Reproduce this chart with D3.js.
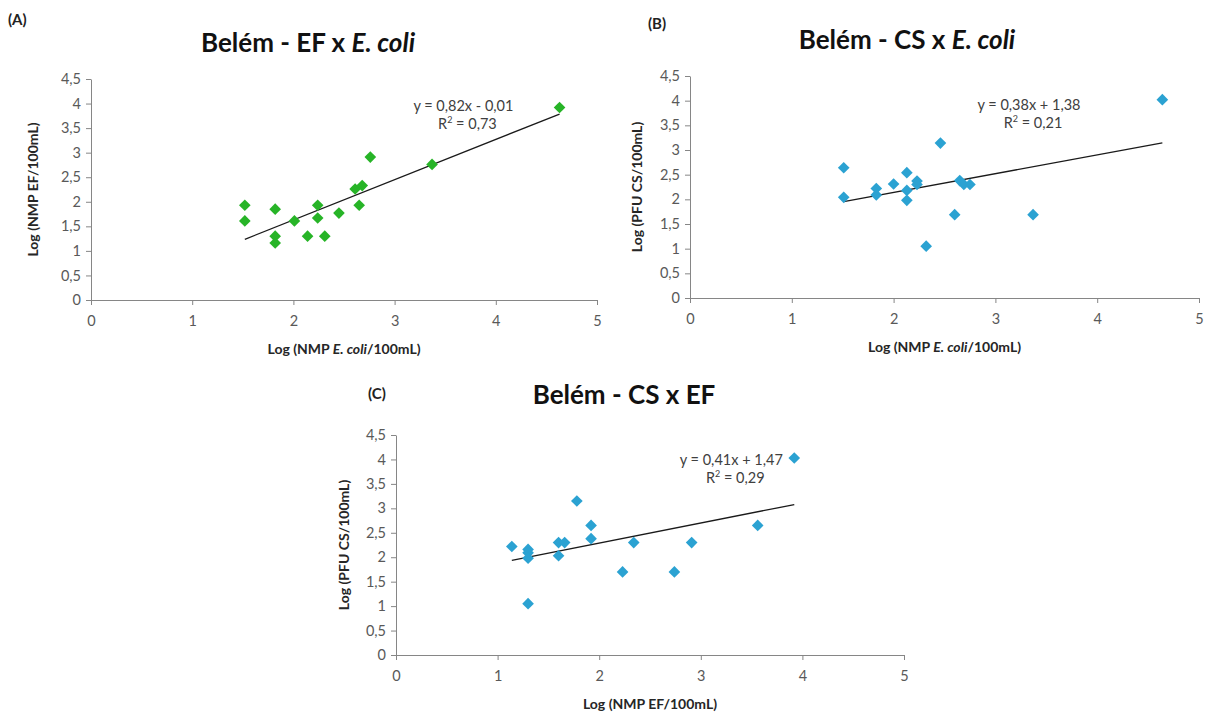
<!DOCTYPE html>
<html>
<head>
<meta charset="utf-8">
<script src="https://cdn.jsdelivr.net/npm/d3@7"></script>
<style>
  body { margin: 0; background: #fff; }
  svg { font-family: Lato, "Open Sans", sans-serif; }
  .axis path, .axis line { stroke: #868686; }
  .label { font-weight: bold; fill: #262626; text-anchor: middle; }
  .title { font-weight: bold; fill: #111; text-anchor: middle; }
  .tag { font-weight: bold; fill: #222; }
  .eq { fill: #404040; text-anchor: middle; }
</style>
</head>
<body>
<svg width="1206" height="713"></svg>
<script>
// tick values shared by the three panels
var xTicks = [0, 1, 2, 3, 4, 5];
var yTicks = [0, 0.5, 1, 1.5, 2, 2.5, 3, 3.5, 4, 4.5];

// (A) EF x E. coli
var aX = [1.52, 1.52, 1.82, 1.82, 1.82, 2.01, 2.14, 2.24, 2.24, 2.31, 2.45, 2.61, 2.68, 2.65, 2.76, 3.37, 4.63];
var aY = [1.93, 1.61, 1.85, 1.30, 1.16, 1.61, 1.30, 1.93, 1.67, 1.30, 1.77, 2.26, 2.33, 1.93, 2.91, 2.76, 3.92];
var aFit = [0.82, -0.01];

// (B) CS x E. coli
var bX = [1.51, 1.51, 1.83, 1.83, 2.00, 2.13, 2.13, 2.13, 2.23, 2.23, 2.46, 2.60, 2.65, 2.69, 2.75, 2.32, 3.37, 4.64];
var bY = [2.64, 2.04, 2.22, 2.09, 2.31, 2.54, 2.18, 1.98, 2.37, 2.30, 3.14, 1.69, 2.38, 2.30, 2.30, 1.05, 1.69, 4.02];
var bFit = [0.38, 1.38];

// (C) CS x EF
var cX = [1.14, 1.30, 1.30, 1.30, 1.30, 1.60, 1.66, 1.60, 1.78, 1.92, 1.92, 2.34, 2.23, 2.74, 2.91, 3.56, 3.92];
var cY = [2.22, 2.16, 2.09, 1.98, 1.05, 2.30, 2.30, 2.03, 3.15, 2.65, 2.38, 2.30, 1.70, 1.70, 2.30, 2.65, 4.03];
var cFit = [0.41, 1.47];

var svg = d3.select('svg');
var fmt = function(d) { return String(d).replace('.', ','); };

function drawPanel(p) {
    var x = d3.scaleLinear().domain([0, 5]).range([p.left, p.right]);
    var y = d3.scaleLinear().domain([0, 4.5]).range([p.bottom, p.top]);
    var g = svg.append('g');

    var xa = g.append('g').attr('class', 'axis')
        .attr('transform', 'translate(0,' + p.bottom + ')')
        .call(d3.axisBottom(x).tickValues(xTicks).tickFormat(fmt).tickSize(5).tickSizeOuter(0).tickPadding(11));

    var ya = g.append('g').attr('class', 'axis')
        .attr('transform', 'translate(' + p.left + ',0)')
        .call(d3.axisLeft(y).tickValues(yTicks).tickFormat(fmt).tickSize(5).tickSizeOuter(0).tickPadding(5));

    [xa, ya].forEach(function(a) {
        a.attr('font-family', null).attr('font-size', null);
        a.selectAll('text').attr('font-size', 14.5).attr('fill', '#595959');
        a.select('.domain').attr('stroke', '#868686');
    });

    // trend line over the range of x values
    var x0 = d3.min(p.xs), x1 = d3.max(p.xs);
    g.append('line')
        .attr('x1', x(x0)).attr('y1', y(p.fit[0] * x0 + p.fit[1]))
        .attr('x2', x(x1)).attr('y2', y(p.fit[0] * x1 + p.fit[1]))
        .attr('stroke', '#1a1a1a')
        .attr('stroke-width', 1.3);

    g.selectAll('path.pt')
        .data(p.xs.map(function(d, i) { return [d, p.ys[i]]; }))
        .enter()
        .append('path')
        .attr('class', 'pt')
        .attr('d', d3.symbol().type(d3.symbolSquare).size(68))
        .attr('transform', function(d) { return 'translate(' + x(d[0]) + ',' + y(d[1]) + ') rotate(45)'; })
        .attr('fill', p.color);

    g.append('text').attr('class', 'eq').attr('font-size', 14.5)
        .attr('x', x(p.eqAt[0])).attr('y', y(p.eqAt[1]))
        .text(p.eq);
    var r2 = g.append('text').attr('class', 'eq').attr('font-size', 14.5)
        .attr('x', x(p.eqAt[0]) + 4).attr('y', y(p.eqAt[1]) + 18);
    r2.append('tspan').text('R');
    r2.append('tspan').attr('font-size', 9).attr('dy', -6).text('2');
    r2.append('tspan').attr('dy', 6).text(' = ' + p.r2);

    g.append('text').attr('class', 'title').attr('font-size', 26)
        .attr('x', p.titleX).attr('y', p.titleY)
        .html(p.title);

    g.append('text').attr('class', 'tag').attr('font-size', 15)
        .attr('x', p.tagX).attr('y', p.tagY)
        .text(p.tag);

    g.append('text').attr('class', 'label').attr('font-size', 14)
        .attr('x', (p.left + p.right) / 2).attr('y', p.bottom + 54)
        .html(p.xLabel);

    g.append('text').attr('class', 'label').attr('font-size', 14)
        .attr('transform', 'translate(' + p.yLabelX + ',' + ((p.top + p.bottom) / 2) + ') rotate(-90)')
        .text(p.yLabel);
}

drawPanel({
    left: 91, right: 597, top: 79, bottom: 300,
    xs: aX, ys: aY, fit: aFit, color: '#27b427',
    eq: 'y = 0,82x - 0,01', r2: '0,73', eqAt: [3.68, 3.85],
    title: 'Belém - EF x <tspan font-style="italic">E. coli</tspan>', titleX: 308, titleY: 52,
    tag: '(A)', tagX: 8, tagY: 25,
    xLabel: 'Log (NMP <tspan font-style="italic">E. coli</tspan>/100mL)',
    yLabel: 'Log (NMP EF/100mL)', yLabelX: 38
});

drawPanel({
    left: 690, right: 1199, top: 76, bottom: 298,
    xs: bX, ys: bY, fit: bFit, color: '#2ba2d2',
    eq: 'y = 0,38x + 1,38', r2: '0,21', eqAt: [3.33, 3.82],
    title: 'Belém - CS x <tspan font-style="italic">E. coli</tspan>', titleX: 907, titleY: 49,
    tag: '(B)', tagX: 648, tagY: 29,
    xLabel: 'Log (NMP <tspan font-style="italic">E. coli</tspan>/100mL)',
    yLabel: 'Log (PFU CS/100mL)', yLabelX: 642
});

drawPanel({
    left: 396, right: 904, top: 435, bottom: 655,
    xs: cX, ys: cY, fit: cFit, color: '#2ba2d2',
    eq: 'y = 0,41x + 1,47', r2: '0,29', eqAt: [3.3, 3.88],
    title: 'Belém - CS x EF', titleX: 624, titleY: 404,
    tag: '(C)', tagX: 368, tagY: 399,
    xLabel: 'Log (NMP EF/100mL)',
    yLabel: 'Log (PFU CS/100mL)', yLabelX: 349
});
</script>
</body>
</html>
